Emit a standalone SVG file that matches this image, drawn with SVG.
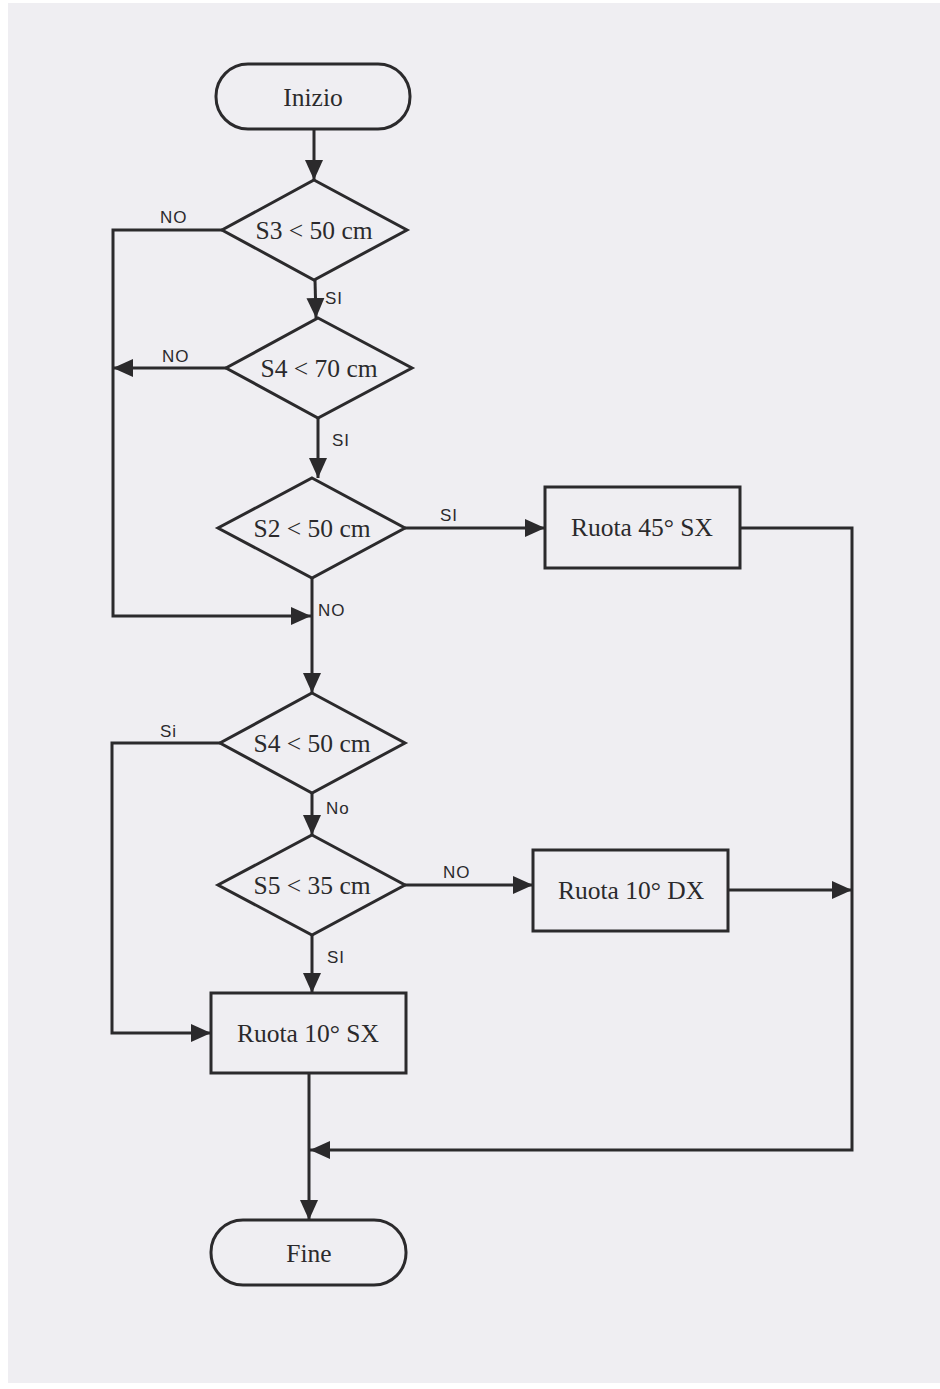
<svg xmlns="http://www.w3.org/2000/svg" width="940" height="1389" viewBox="0 0 940 1389">
<defs>
<marker id="ah" viewBox="0 0 20 20" refX="20" refY="10" markerWidth="20" markerHeight="20" markerUnits="userSpaceOnUse" orient="auto">
<path d="M0,1 L20,10 L0,19 Z" fill="#2b2a2c"/>
</marker>
<style>
.shape{fill:none;stroke:#2b2a2c;stroke-width:3;stroke-linejoin:miter}
.arrow{fill:none;stroke:#2b2a2c;stroke-width:3;marker-end:url(#ah)}
.t{font-family:"Liberation Serif","Times New Roman",serif;font-size:25.5px;fill:#2b2a2c;text-anchor:middle;dominant-baseline:central}
.h{font-family:"Liberation Sans",Arial,sans-serif;font-size:17px;fill:#2b2a2c;letter-spacing:1px}
</style>
</defs>
<rect x="0" y="0" width="940" height="1389" fill="#ffffff"/>
<rect x="8" y="3" width="932" height="1380" fill="#efeef2"/>

<g id="connectors">
<line class="arrow" x1="314" y1="130" x2="314" y2="180"/>
<polyline class="arrow" points="222,230 113,230 113,616 311,616"/>
<line class="arrow" x1="315" y1="280" x2="316" y2="318"/>
<line class="arrow" x1="226" y1="368" x2="113" y2="368"/>
<line class="arrow" x1="318" y1="418" x2="318" y2="478"/>
<line class="arrow" x1="405" y1="528" x2="545" y2="528"/>
<polyline class="arrow" points="740,528 852,528 852,1150 310,1150"/>
<line class="arrow" x1="312" y1="578" x2="312" y2="693"/>
<polyline class="arrow" points="220,743 112,743 112,1033 211,1033"/>
<line class="arrow" x1="312" y1="793" x2="312" y2="835"/>
<line class="arrow" x1="405" y1="885" x2="533" y2="885"/>
<line class="arrow" x1="728" y1="890" x2="852" y2="890"/>
<line class="arrow" x1="312" y1="935" x2="312" y2="993"/>
<line class="arrow" x1="309" y1="1073" x2="309" y2="1220"/>
<text class="h" x="160" y="223">NO</text>
<text class="h" x="325" y="304">SI</text>
<text class="h" x="162" y="362">NO</text>
<text class="h" x="332" y="446">SI</text>
<text class="h" x="440" y="521">SI</text>
<text class="h" x="318" y="616">NO</text>
<text class="h" x="160" y="737">Si</text>
<text class="h" x="326" y="814">No</text>
<text class="h" x="443" y="878">NO</text>
<text class="h" x="327" y="963">SI</text>
</g>

<g id="inizio">
<rect class="shape" x="216" y="64" width="194" height="65" rx="32" ry="32"/>
<text class="t" x="313" y="97">Inizio</text>
</g>
<g id="d1">
<polygon class="shape" points="314,180 407,230 314,280 222,230"/>
<text class="t" x="314" y="230">S3 &lt; 50 cm</text>
</g>
<g id="d2">
<polygon class="shape" points="318,318 412,368 318,418 226,368"/>
<text class="t" x="319" y="368">S4 &lt; 70 cm</text>
</g>
<g id="d3">
<polygon class="shape" points="312,478 405,528 312,578 218,528"/>
<text class="t" x="312" y="528">S2 &lt; 50 cm</text>
</g>
<g id="r45sx">
<rect class="shape" x="545" y="487" width="195" height="81"/>
<text class="t" x="642" y="527">Ruota 45° SX</text>
</g>
<g id="d4">
<polygon class="shape" points="312,693 405,743 312,793 220,743"/>
<text class="t" x="312" y="743">S4 &lt; 50 cm</text>
</g>
<g id="d5">
<polygon class="shape" points="312,835 405,885 312,935 218,885"/>
<text class="t" x="312" y="885">S5 &lt; 35 cm</text>
</g>
<g id="r10dx">
<rect class="shape" x="533" y="850" width="195" height="81"/>
<text class="t" x="631" y="890">Ruota 10° DX</text>
</g>
<g id="r10sx">
<rect class="shape" x="211" y="993" width="195" height="80"/>
<text class="t" x="308" y="1033">Ruota 10° SX</text>
</g>
<g id="fine">
<rect class="shape" x="211" y="1220" width="195" height="65" rx="32" ry="32"/>
<text class="t" x="309" y="1253">Fine</text>
</g>
</svg>
